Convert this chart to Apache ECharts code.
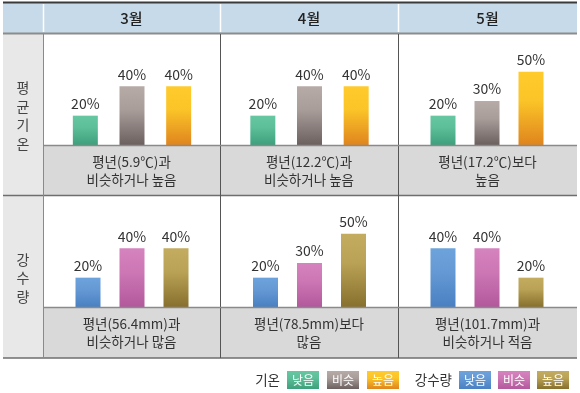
<!DOCTYPE html>
<html><head><meta charset="utf-8">
<script src="https://cdn.jsdelivr.net/npm/echarts@6/dist/echarts.min.js"></script>
<style>html,body{margin:0;padding:0;background:#fff}#c{width:580px;height:393px}</style>
</head><body><div id="c"></div>
<script>
// ---- data ----
const months = ['3월', '4월', '5월'];
const rowLabels = ['평균기온', '강수량'];
const categories = ['낮음', '비슷', '높음'];
const tempValues = [[20, 40, 40], [20, 40, 40], [20, 30, 50]];
const rainValues = [[20, 40, 40], [20, 30, 50], [40, 40, 20]];
const tempNotes = ['평년(5.9℃)과\n비슷하거나 높음', '평년(12.2℃)과\n비슷하거나 높음', '평년(17.2℃)보다\n높음'];
const rainNotes = ['평년(56.4mm)과\n비슷하거나 많음', '평년(78.5mm)보다\n많음', '평년(101.7mm)과\n비슷하거나 적음'];
const legendTitles = ['기온', '강수량'];

// ---- styles / layout ----
const FONT = "'Noto Sans CJK KR', 'Noto Sans', sans-serif";
function grad(top, mid, bottom) {
  return new echarts.graphic.LinearGradient(0, 0, 0, 1, [
    { offset: 0, color: top }, { offset: 0.4, color: mid }, { offset: 1, color: bottom }
  ]);
}
const tempColors = [
  grad('#66c7a2', '#5cbf99', '#3e9f7c'),
  grad('#b7aba8', '#a99d9a', '#6c605f'),
  grad('#ffcb2c', '#fbc428', '#df841e')
];
const rainColors = [
  grad('#6da3dc', '#6599d5', '#4a80c2'),
  grad('#d583be', '#cd77b5', '#b2589c'),
  grad('#c3ab60', '#b9a155', '#87702e')
];
const cellX = [43, 220, 398, 577];
const rowChartTop = [35, 197];
const rowBase = [145, 307];
const rowBottom = [194, 357];
// grid placement per row/col: [left, width]
const gridPos = [
  [[62, 140], [239.5, 140], [421, 132]],
  [[66, 132], [243.5, 132], [421, 132]]
];

const grids = [], xAxes = [], yAxes = [], series = [];
[tempValues, rainValues].forEach((rowVals, r) => {
  const cols = r === 0 ? tempColors : rainColors;
  rowVals.forEach((vals, c) => {
    const i = grids.length;
    grids.push({ left: gridPos[r][c][0], width: gridPos[r][c][1], top: rowChartTop[r], height: rowBase[r] - rowChartTop[r] });
    xAxes.push({ gridIndex: i, type: 'category', data: categories, axisLine: { show: false }, axisTick: { show: false }, axisLabel: { show: false } });
    yAxes.push({ gridIndex: i, type: 'value', min: 0, max: 75, show: false, splitLine: { show: false } });
    series.push({
      type: 'bar', xAxisIndex: i, yAxisIndex: i, barWidth: 25,
      data: vals.map((v, k) => ({ value: v, itemStyle: { color: cols[k] } })),
      label: { show: true, position: 'top', distance: 5, formatter: '{c}%', color: '#333', fontSize: 14, fontFamily: FONT }
    });
  });
});

// table graphics
const g = [];
g.push({ type: 'rect', shape: { x: 3, y: 34, width: 40, height: 324 }, style: { fill: '#e8e8e8' }, z: -10 });
g.push({ type: 'rect', shape: { x: 3, y: 3, width: 574, height: 30 }, style: { fill: '#c7dae9' }, z: -10 });
[0, 1].forEach(r => {
  g.push({ type: 'rect', shape: { x: 43, y: rowBase[r], width: 534, height: rowBottom[r] - rowBase[r] + 1 }, style: { fill: '#d9d9d9' }, z: -10 });
  g.push({ type: 'line', shape: { x1: 43, y1: rowBase[r] + 0.5, x2: 577, y2: rowBase[r] + 0.5 }, style: { stroke: '#8a8a8a', lineWidth: 1.5 }, z: 5 });
});
[43, 220, 398].forEach(x => g.push({ type: 'line', shape: { x1: x + 0.5, y1: 4, x2: x + 0.5, y2: 32 }, style: { stroke: '#ffffff', lineWidth: 1.5 }, z: -5 }));
g.push({ type: 'line', shape: { x1: 3, y1: 2.5, x2: 577, y2: 2.5 }, style: { stroke: '#3a3a3a', lineWidth: 2 } });
g.push({ type: 'line', shape: { x1: 3, y1: 33.5, x2: 577, y2: 33.5 }, style: { stroke: '#8c8c8c', lineWidth: 2 } });
g.push({ type: 'line', shape: { x1: 3, y1: 195.5, x2: 577, y2: 195.5 }, style: { stroke: '#6e6e6e', lineWidth: 1.5 } });
g.push({ type: 'line', shape: { x1: 3, y1: 358, x2: 577, y2: 358 }, style: { stroke: '#6e6e6e', lineWidth: 1.5 } });
g.push({ type: 'line', shape: { x1: 43.5, y1: 34, x2: 43.5, y2: 358 }, style: { stroke: '#8a8a8a', lineWidth: 1 } });
[220, 398].forEach(x => g.push({ type: 'line', shape: { x1: x + 0.5, y1: 34, x2: x + 0.5, y2: 358 }, style: { stroke: '#555', lineWidth: 1 } }));
months.forEach((m, c) => g.push({ type: 'text', x: (cellX[c] + cellX[c + 1]) / 2, y: 18,
  style: { text: m, fill: '#222', font: `500 15px ${FONT}`, align: 'center', verticalAlign: 'middle' } }));
const rowCenters = [115.5, 278];
rowLabels.forEach((t, r) => g.push({ type: 'text', x: 23, y: rowCenters[r],
  style: { text: t.split('').join('\n'), fill: '#444', font: `14px ${FONT}`, lineHeight: 18.5, align: 'center', verticalAlign: 'middle' } }));
[tempNotes, rainNotes].forEach((notes, r) => notes.forEach((t, c) => g.push({ type: 'text',
  x: (cellX[c] + cellX[c + 1]) / 2, y: (rowBase[r] + rowBottom[r]) / 2 + 1,
  style: { text: t, fill: '#333', font: `13.5px ${FONT}`, lineHeight: 18, align: 'center', verticalAlign: 'middle' } })));
const legY = 371, legH = 18;
g.push({ type: 'text', x: 280, y: legY + legH / 2, style: { text: legendTitles[0], fill: '#333', font: `13.5px ${FONT}`, align: 'right', verticalAlign: 'middle' } });
g.push({ type: 'text', x: 452, y: legY + legH / 2, style: { text: legendTitles[1], fill: '#333', font: `13.5px ${FONT}`, align: 'right', verticalAlign: 'middle' } });
const legX = [[287, 327, 367], [459, 498, 537]];
[tempColors, rainColors].forEach((cols, r) => categories.forEach((cat, k) => {
  g.push({ type: 'rect', shape: { x: legX[r][k], y: legY, width: 32, height: legH }, style: { fill: cols[k] } });
  g.push({ type: 'text', x: legX[r][k] + 16, y: legY + legH / 2 + 0.5, style: { text: cat, fill: '#fff', font: `12px ${FONT}`, align: 'center', verticalAlign: 'middle' } });
}));

const chart = echarts.init(document.getElementById('c'), null, { renderer: 'canvas' });
chart.setOption({
  animation: false,
  backgroundColor: '#fff',
  grid: grids, xAxis: xAxes, yAxis: yAxes, series: series,
  graphic: g
});
</script></body></html>
